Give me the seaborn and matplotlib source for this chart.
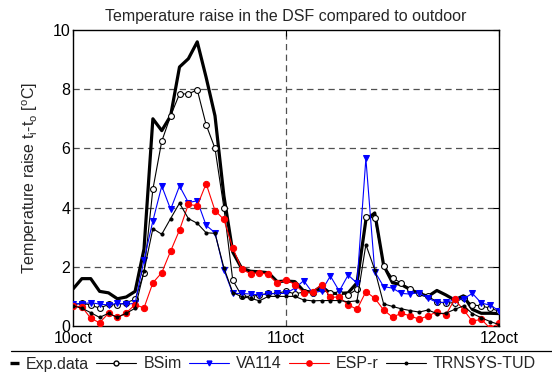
import numpy as np
import pandas as pd
import matplotlib
matplotlib.use("Agg")
import matplotlib.pyplot as plt
from matplotlib.lines import Line2D
from matplotlib.legend_handler import HandlerBase
import seaborn as sns

hours = list(range(49))
xtick_pos = [0, 24, 48]
xtick_labels = ["10oct", "11oct", "12oct"]
yticks = [0, 2, 4, 6, 8, 10]

exp_data = [1.25, 1.6, 1.6, 1.17, 1.12, 0.92, 0.98, 1.17, 2.6, 7.0, 6.6, 7.1, 8.75, 9.03, 9.6, 8.4,
            7.1, 4.4, 2.5, 1.95, 1.85, 1.83, 1.8, 1.5, 1.52, 1.5, 1.18, 1.14, 1.34, 1.1, 1.1, 1.12,
            1.46, 3.58, 3.82, 2.05, 1.46, 1.4, 1.23, 1.1, 1.0, 1.2, 1.05, 0.88, 1.02, 0.56, 0.43, 0.43, 0.42]
bsim = [0.72, 0.77, 0.71, 0.6, 0.73, 0.71, 0.79, 0.9, 1.8, 4.62, 6.24, 7.1, 7.84, 7.84, 7.98, 6.8,
        6.0, 4.0, 1.55, 1.02, 0.99, 1.05, 1.1, 1.1, 1.18, 1.08, 1.15, 1.13, 1.24, 1.13, 1.12, 1.05,
        1.24, 3.68, 3.65, 2.03, 1.62, 1.45, 1.24, 1.1, 1.0, 0.82, 0.77, 0.79, 0.95, 0.71, 0.68, 0.6, 0.5]
va114 = [0.75, 0.75, 0.79, 0.74, 0.71, 0.77, 0.73, 0.77, 2.23, 3.55, 4.73, 3.94, 4.73, 4.17, 4.23, 3.4,
         3.15, 1.9, 1.1, 1.1, 1.08, 1.05, 1.08, 1.1, 1.1, 1.28, 1.53, 1.12, 1.18, 1.69, 1.18, 1.72,
         1.45, 5.66, 1.84, 1.33, 1.28, 1.1, 1.08, 1.13, 0.94, 0.8, 0.8, 0.88, 0.92, 1.1, 0.78, 0.7, 0.52]
espr = [0.68, 0.65, 0.26, 0.11, 0.43, 0.29, 0.45, 0.72, 0.61, 1.46, 1.8, 2.53, 3.24, 4.11, 4.06, 4.81,
        3.9, 3.6, 2.64, 1.93, 1.76, 1.8, 1.74, 1.45, 1.56, 1.4, 1.13, 1.15, 1.4, 0.97, 0.98, 0.72,
        0.56, 1.16, 0.94, 0.54, 0.3, 0.43, 0.34, 0.23, 0.34, 0.48, 0.37, 0.9, 0.55, 0.16, 0.23, -0.08, 0.1]
trnsys = [0.68, 0.6, 0.45, 0.29, 0.43, 0.29, 0.43, 0.6, 1.85, 3.29, 3.1, 3.63, 4.15, 3.63, 3.47, 3.15,
          3.13, 1.97, 1.13, 0.99, 0.94, 0.85, 1.0, 1.0, 1.0, 1.0, 0.88, 0.85, 0.86, 0.86, 0.86, 0.82,
          0.85, 2.75, 1.9, 0.75, 0.66, 0.58, 0.52, 0.47, 0.54, 0.42, 0.43, 0.56, 0.68, 0.42, 0.28, 0.15, 0.05]

sns.set_style("white")
plt.rcParams["font.family"] = ["Liberation Sans", "DejaVu Sans"]
plt.rcParams["mathtext.fontset"] = "custom"
plt.rcParams["mathtext.rm"] = "Liberation Sans"
plt.rcParams["mathtext.default"] = "regular"

FS = 11.5

fig = plt.figure(figsize=(5.52, 3.77), dpi=100)
ax = fig.add_axes([73 / 552, 1 - 326 / 377, (499 - 73) / 552, (326 - 30) / 377])

grid_kw = dict(color="#505050", lw=0.9, ls=(0, (5, 3.5)), zorder=0)
for yv in yticks[1:-1]:
    ax.axhline(yv, **grid_kw)
ax.axvline(24, **grid_kw)

sns.lineplot(x=hours, y=exp_data, ax=ax, color="black", lw=2.3, zorder=3)
sns.lineplot(x=hours, y=bsim, ax=ax, color="black", lw=0.8, marker="o", markersize=4.2,
             markerfacecolor="white", markeredgecolor="black", markeredgewidth=0.8, zorder=4)
sns.lineplot(x=hours, y=va114, ax=ax, color="#0000ff", lw=0.8, marker="v", markersize=4.5,
             markerfacecolor="#0000ff", markeredgecolor="#0000ff", zorder=4)
sns.lineplot(x=hours, y=espr, ax=ax, color="#ff0000", lw=0.8, marker="o", markersize=4.5,
             markerfacecolor="#ff0000", markeredgecolor="#ff0000", zorder=4)
sns.lineplot(x=hours, y=trnsys, ax=ax, color="black", lw=0.8, marker="o", markersize=2.2,
             markerfacecolor="black", markeredgecolor="black", zorder=4)

ax.set_xlim(0, 48)
ax.set_ylim(0, 10)
ax.set_xticks(xtick_pos)
ax.set_xticklabels(xtick_labels)
ax.set_yticks(yticks)
ax.set_yticklabels([str(v) for v in yticks])
ax.tick_params(direction="in", length=4, width=0.8, top=True, right=True, labelsize=FS,
               colors="black")
ax.tick_params(axis="x", pad=3.5)
ax.tick_params(axis="y", pad=2)
for sp in ax.spines.values():
    sp.set_color("black")
    sp.set_linewidth(1.0)
ax.set_title("Temperature raise in the DSF compared to outdoor", fontsize=FS, pad=6.5)
ax.set_ylabel(r"Temperature raise t$_{i}$-t$_{o}$ [$^{o}$C]", fontsize=FS, labelpad=9)
ax.set_xlabel("")


class ShortDash(HandlerBase):
    def create_artists(self, legend, orig_handle, xdescent, ydescent, width, height, fontsize, trans):
        y = height / 2 - ydescent
        x1 = width - xdescent
        ln = Line2D([x1 - 6.5, x1], [y, y], color="black", lw=2.4, solid_capstyle="butt")
        ln.set_transform(trans)
        return [ln]


exp_handle = Line2D([], [], color="black", lw=2.4)
handles = [
    exp_handle,
    Line2D([], [], color="black", lw=0.8, marker="o", markersize=3.5, markerfacecolor="white"),
    Line2D([], [], color="#0000ff", lw=0.8, marker="v", markersize=3.5),
    Line2D([], [], color="#ff0000", lw=0.8, marker="o", markersize=3.8),
    Line2D([], [], color="black", lw=0.8, marker="o", markersize=1.8),
]
labels = ["Exp.data", "BSim", "VA114", "ESP-r", "TRNSYS-TUD"]
fig.legend(handles, labels, loc="center left", bbox_to_anchor=(-0.05, 1 - 364 / 377), ncol=5,
           frameon=False, fontsize=FS, handlelength=2.5, handletextpad=0.45, columnspacing=0.45,
           borderaxespad=0, handler_map={exp_handle: ShortDash()})
fig.add_artist(Line2D([11 / 552, 1.0], [1 - 351 / 377, 1 - 351 / 377],
                      transform=fig.transFigure, color="black", lw=0.9))

fig.savefig("out.png", dpi=100)
